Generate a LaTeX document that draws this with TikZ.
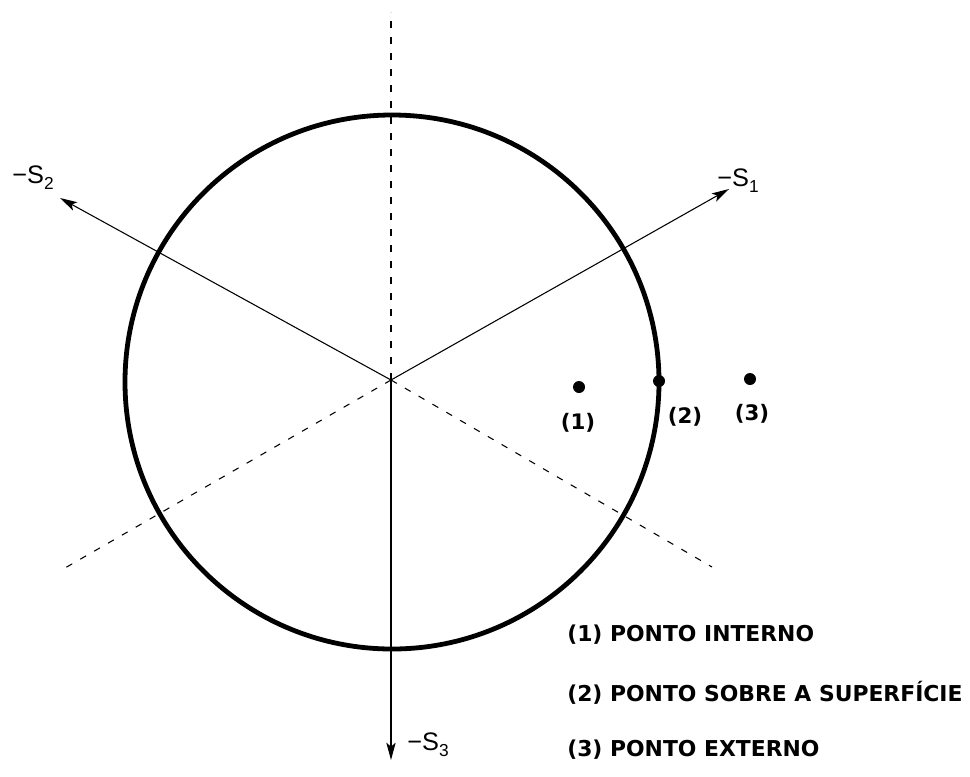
\documentclass[tikz,border=0pt]{standalone}
\usepackage{fontspec}
\setmainfont{Liberation Sans}
\newfontfamily\legendfont{DejaVu Sans}
\usetikzlibrary{arrows.meta}
\tikzset{
  axisline/.style={line width=0.8pt, -{Stealth[length=13pt,width=7pt,inset=3pt]}},
  dashline/.style={line width=0.8pt, dash pattern=on 5pt off 7pt},
  ring/.style={line width=3.6pt},
  dot/.style={circle, fill=black, inner sep=0pt, minimum size=9pt},
  axislabel/.style={font=\fontsize{19}{19}\selectfont, inner sep=0pt},
  ptlabel/.style={font=\legendfont\bfseries\fontsize{16}{16}\selectfont, inner sep=0pt},
  legend/.style={font=\legendfont\bfseries\fontsize{16.4}{16.4}\selectfont, inner sep=0pt, anchor=west}
}
\newcommand{\axlab}[1]{−S\raisebox{-0.45ex}{\fontsize{13}{13}\selectfont #1}}
\begin{document}
\begin{tikzpicture}[x=0.75pt,y=-0.75pt]
\useasboundingbox (0,0) rectangle (970,776);
\coordinate (O) at (391,380);
\coordinate (C) at (392,382);
\coordinate (T1) at (729,189);
\coordinate (T2) at (60,198);
\coordinate (T3) at (391,760);
\coordinate (D0) at (391,12);
\coordinate (D1) at (65,568);
\coordinate (D2) at (712,567);
% dashed axes
\draw[dashline] (O) -- (D0);
\draw[dashline] (O) -- (D1);
\draw[dashline] (O) -- (D2);
% circle
\draw[ring] (C) circle[radius=267];
% arrows
\draw[axisline] (O) -- (T1);
\draw[axisline] (O) -- (T2);
\draw[axisline] (O) -- (T3);
% axis labels
\node[axislabel] (L1) at (738,181) {\axlab{1}};
\node[axislabel] (L2) at (33,178) {\axlab{2}};
\node[axislabel] (L3) at (428,745) {\axlab{3}};
% points
\node[dot] (P1) at (579,387) {};
\node[dot] (P2) at (659,381) {};
\node[dot] (P3) at (750,379) {};
\node[ptlabel] (Q1) at (578,423) {(1)};
\node[ptlabel] (Q2) at (685,417) {(2)};
\node[ptlabel] (Q3) at (752,414) {(3)};
% legend
\node[legend] (E1) at (567,635) {(1) PONTO INTERNO};
\node[legend] (E2) at (567,693) {(2) PONTO SOBRE A SUPERFÍCIE};
\node[legend] (E3) at (567,750) {(3) PONTO EXTERNO};
\end{tikzpicture}
\end{document}
